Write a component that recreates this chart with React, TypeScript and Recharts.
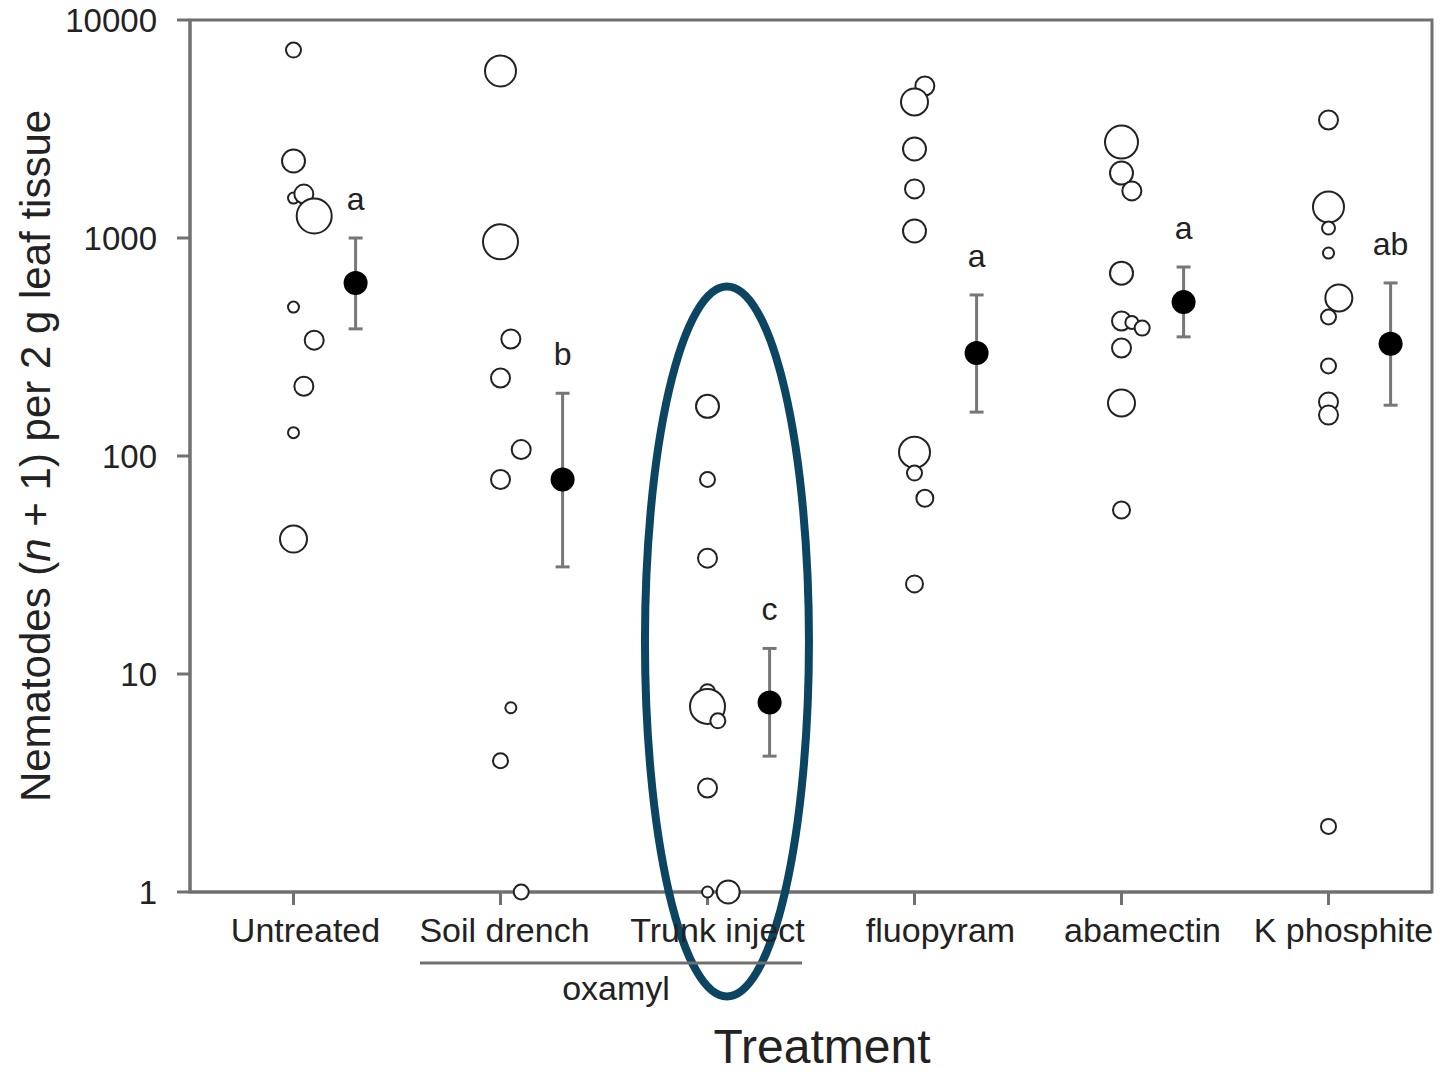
import React from 'react';
import { ScatterChart, Scatter, XAxis, YAxis, ErrorBar, ReferenceDot, ReferenceArea } from 'recharts';

const treatments = ['Untreated', 'Soil drench', 'Trunk inject', 'fluopyram', 'abamectin', 'K phosphite'];
const xTicks = [1, 2, 3, 4, 5, 6];
const yTicks = [1, 10, 100, 1000, 10000];

// single trees: x = treatment position (+ jitter), y = nematodes (n + 1), w = marker size class
const untreatedObs = [
  { x: 1, y: 7280, w: 2 },
  { x: 1, y: 2255, w: 4 },
  { x: 1, y: 1525, w: 1 },
  { x: 1.05, y: 1590, w: 3 },
  { x: 1.1, y: 1262, w: 7 },
  { x: 1, y: 482, w: 1 },
  { x: 1.1, y: 340, w: 3 },
  { x: 1.05, y: 209, w: 3 },
  { x: 1, y: 128, w: 1 },
  { x: 1, y: 41.6, w: 5 },
];
const soilDrenchObs = [
  { x: 2, y: 5840, w: 6 },
  { x: 2, y: 960, w: 7 },
  { x: 2.05, y: 344, w: 3 },
  { x: 2, y: 228, w: 3 },
  { x: 2.1, y: 107, w: 3 },
  { x: 2, y: 78, w: 3 },
  { x: 2.05, y: 7, w: 1 },
  { x: 2, y: 4, w: 2 },
  { x: 2.1, y: 1, w: 2 },
];
const trunkInjectObs = [
  { x: 3, y: 169, w: 4 },
  { x: 3, y: 78, w: 2 },
  { x: 3, y: 34, w: 3 },
  { x: 3, y: 8.3, w: 2 },
  { x: 3, y: 7.1, w: 7 },
  { x: 3.05, y: 6.1, w: 2 },
  { x: 3, y: 3, w: 3 },
  { x: 3, y: 1, w: 1 },
  { x: 3.1, y: 1, w: 4 },
];
const fluopyramObs = [
  { x: 4.05, y: 4980, w: 3 },
  { x: 4, y: 4210, w: 5 },
  { x: 4, y: 2560, w: 4 },
  { x: 4, y: 1680, w: 3 },
  { x: 4, y: 1077, w: 4 },
  { x: 4, y: 104, w: 6 },
  { x: 4, y: 83.5, w: 2 },
  { x: 4.05, y: 64, w: 2.5 },
  { x: 4, y: 25.9, w: 2.5 },
];
const abamectinObs = [
  { x: 5, y: 2754, w: 6.5 },
  { x: 5, y: 1986, w: 4 },
  { x: 5.05, y: 1644, w: 3 },
  { x: 5, y: 690, w: 4 },
  { x: 5, y: 416, w: 3 },
  { x: 5.05, y: 410, w: 1.5 },
  { x: 5.1, y: 386, w: 2 },
  { x: 5, y: 313, w: 3 },
  { x: 5, y: 175, w: 5 },
  { x: 5, y: 56.5, w: 2.5 },
];
const kPhosphiteObs = [
  { x: 6, y: 3476, w: 3 },
  { x: 6, y: 1387, w: 6 },
  { x: 6, y: 1111, w: 1.5 },
  { x: 6, y: 853, w: 1 },
  { x: 6.05, y: 531, w: 5 },
  { x: 6, y: 434, w: 2 },
  { x: 6, y: 259, w: 2 },
  { x: 6, y: 177, w: 3 },
  { x: 6, y: 154, w: 3 },
  { x: 6, y: 2, w: 2 },
];

const means = [622, 78, 7.4, 297, 508, 327];
const lowerCI = [383, 31, 4.2, 159, 352, 171];
const upperCI = [1000, 194, 13.1, 548, 736, 622];
const letters = ['a', 'b', 'c', 'a', 'a', 'ab'];

// highlight around the trunk injection group (data coords of the ellipse centre)
const highlightX = 3.094;
const highlightY = 14.1;

const observations = [
  ...untreatedObs,
  ...soilDrenchObs,
  ...trunkInjectObs,
  ...fluopyramObs,
  ...abamectinObs,
  ...kPhosphiteObs,
];

const MEAN_SHIFT = 0.3;
const meanData = means.map((m, i) => ({
  x: i + 1 + MEAN_SHIFT,
  y: m,
  err: [m - lowerCI[i], upperCI[i] - m],
}));
const letterData = letters.map((l, i) => ({ x: i + 1 + MEAN_SHIFT, y: upperCI[i], letter: l }));

const FONT = '"Liberation Sans", Arial, sans-serif';
const TEXT = '#222';
const AXIS = '#707070';

const labelShift: Record<string, number> = {
  Untreated: 12,
  'Soil drench': 4,
  'Trunk inject': 10,
  fluopyram: 26,
  abamectin: 21,
  'K phosphite': 15,
};

const XTick = (props: any) => {
  const { x, y, payload } = props;
  const name = treatments[payload.value - 1];
  return (
    <text x={x + labelShift[name]} y={y} dy={24} textAnchor="middle" fontSize={34} fontFamily={FONT} fill={TEXT}>
      {name}
    </text>
  );
};

const ObsDot = (p: any) => (
  <circle cx={p.cx} cy={p.cy} r={3.5 + 2 * p.payload.w} fill="#fff" stroke="#222" strokeWidth={2} />
);

const MeanDot = (p: any) => <circle cx={p.cx} cy={p.cy} r={12} fill="#000" />;

const Letter = (p: any) => (
  <text x={p.cx} y={p.cy - 28} textAnchor="middle" fontSize={32} fontFamily={FONT} fill={TEXT}>
    {p.payload.letter}
  </text>
);

const Highlight = (p: any) => (
  <ellipse cx={p.cx} cy={p.cy} rx={82} ry={355} fill="none" stroke="#0b4561" strokeWidth={8} />
);

export default function App() {
  return (
    <div style={{ position: 'absolute', left: 0, top: 0, width: 1442, height: 1074, background: '#fff' }}>
      <ScatterChart width={1442} height={1074} margin={{ top: 20, right: 10, left: 70, bottom: 122 }}>
        <XAxis
          type="number"
          dataKey="x"
          domain={[0.5, 6.5]}
          ticks={xTicks}
          interval={0}
          tick={<XTick />}
          tickSize={13}
          tickMargin={13}
          height={60}
          axisLine={{ stroke: AXIS, strokeWidth: 3 }}
          tickLine={{ stroke: AXIS, strokeWidth: 3 }}
        />
        <YAxis
          type="number"
          dataKey="y"
          scale="log"
          domain={[1, 10000]}
          ticks={yTicks}
          interval={0}
          width={120}
          tickSize={13}
          tickMargin={20}
          tick={{ fontSize: 33, fontFamily: FONT, fill: TEXT }}
          axisLine={{ stroke: AXIS, strokeWidth: 3 }}
          tickLine={{ stroke: AXIS, strokeWidth: 3 }}
        />
        <ReferenceArea x1={0.5} x2={6.5} y1={1} y2={10000} fill="none" stroke={AXIS} strokeWidth={3} />
        <Scatter data={observations} shape={ObsDot} isAnimationActive={false} />
        <Scatter data={meanData} shape={MeanDot} isAnimationActive={false}>
          <ErrorBar dataKey="err" direction="y" width={7} stroke="#777" strokeWidth={3} />
        </Scatter>
        <Scatter data={letterData} shape={Letter} isAnimationActive={false} />
        <ReferenceDot x={highlightX} y={highlightY} r={0} shape={Highlight} ifOverflow="visible" />
      </ScatterChart>
      <svg width={1442} height={1074} style={{ position: 'absolute', left: 0, top: 0, pointerEvents: 'none' }}>
        <text
          x={50}
          y={456}
          transform="rotate(-90 50 456)"
          textAnchor="middle"
          fontSize={42}
          fontFamily={FONT}
          fill={TEXT}
        >
          Nematodes (<tspan fontStyle="italic">n</tspan> + 1) per 2 g leaf tissue
        </text>
        <line x1={420} x2={802} y1={963} y2={963} stroke={AXIS} strokeWidth={3} />
        <text x={616} y={1000} textAnchor="middle" fontSize={34} fontFamily={FONT} fill={TEXT}>
          oxamyl
        </text>
        <text x={822} y={1063} textAnchor="middle" fontSize={48} fontFamily={FONT} fill={TEXT}>
          Treatment
        </text>
      </svg>
    </div>
  );
}
